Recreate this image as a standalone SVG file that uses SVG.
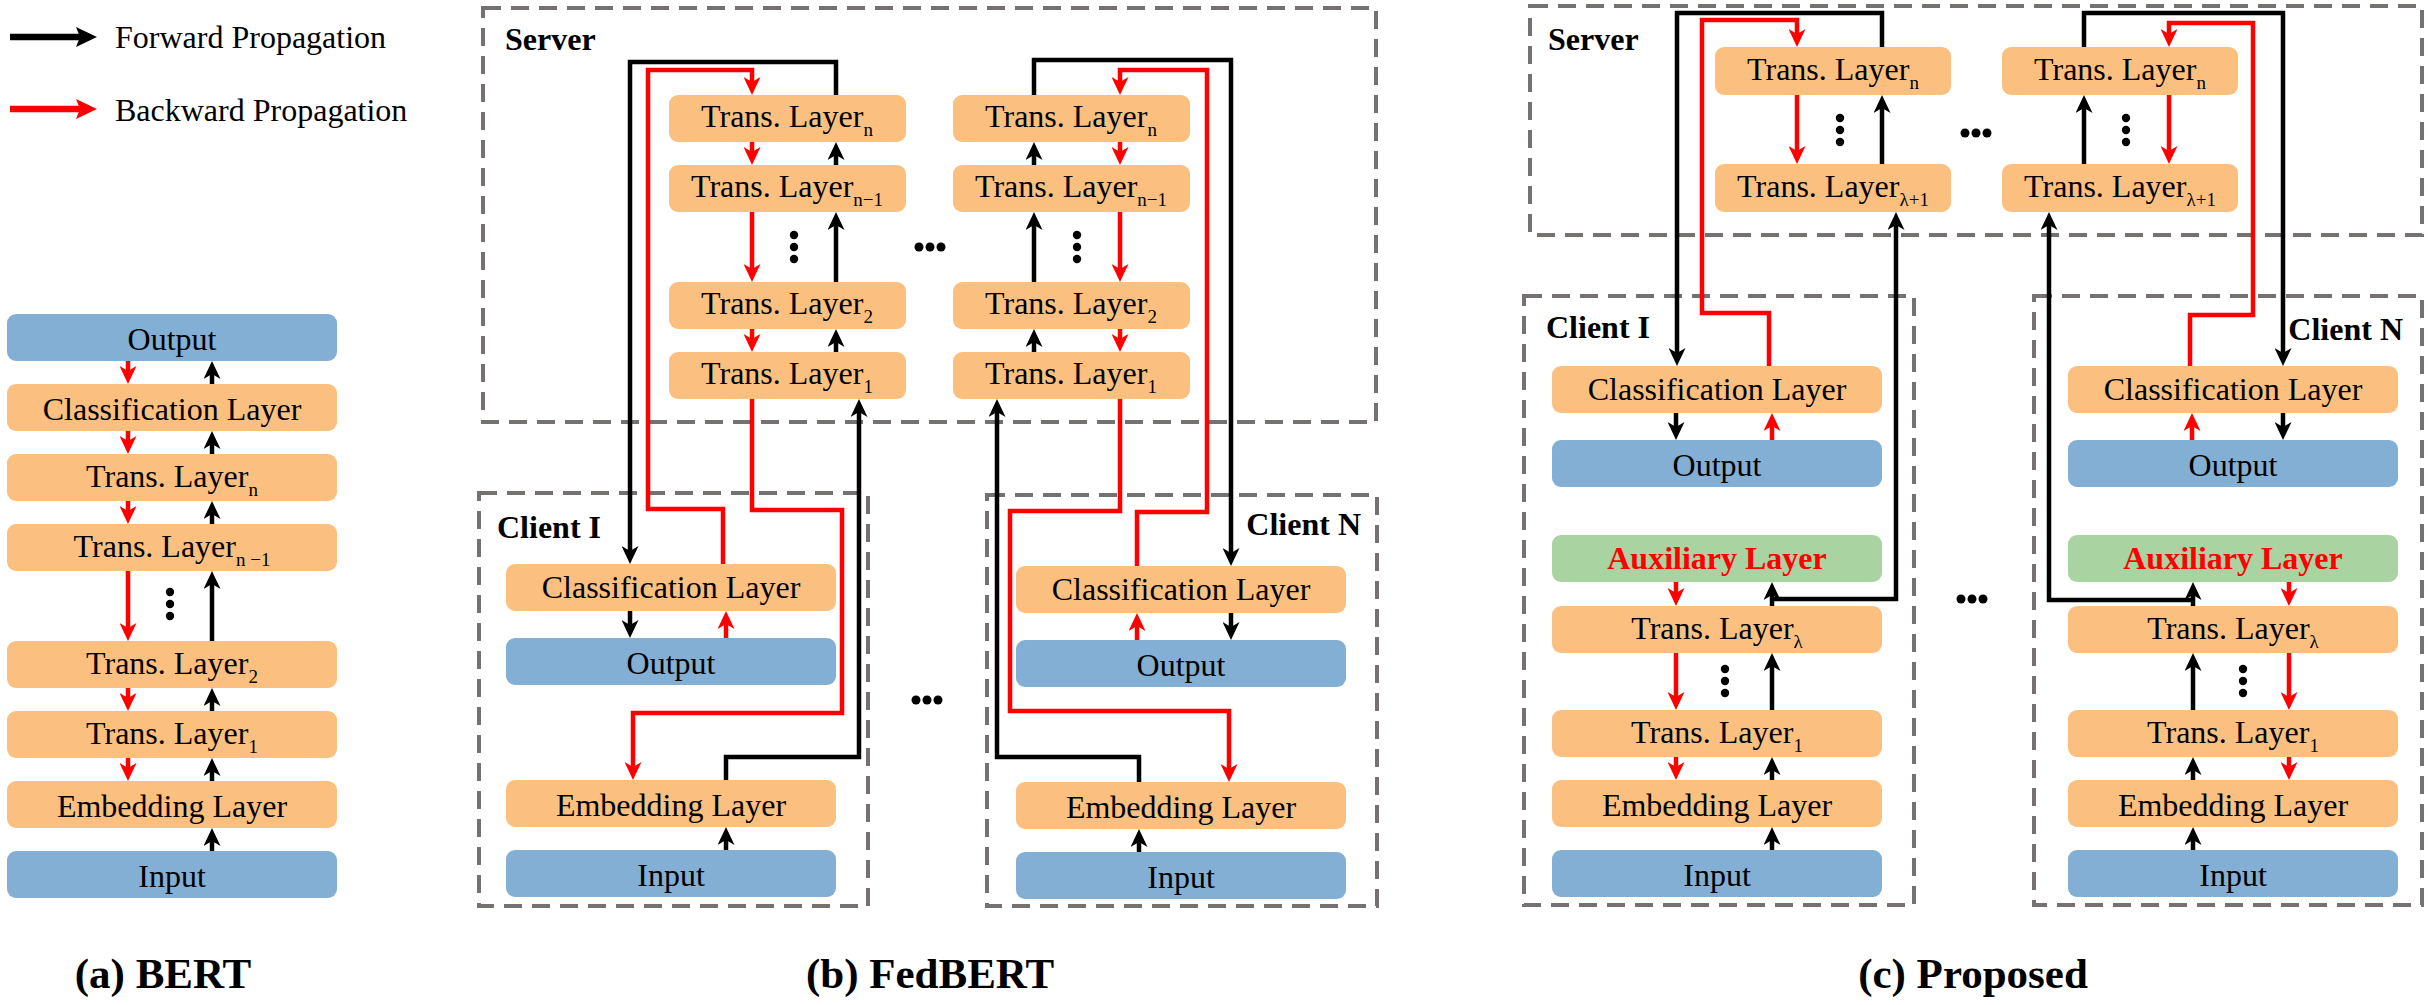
<svg xmlns="http://www.w3.org/2000/svg" width="2428" height="1005" viewBox="0 0 2428 1005">
<style>
.o{fill:#FBC07F}
.b{fill:#82AFD3}
.g{fill:#A9D3A1}
.t{font-family:"Liberation Serif","Times New Roman",serif;font-size:32px;text-anchor:middle;fill:#000}
.s{font-size:19px}
.lb{font-family:"Liberation Serif","Times New Roman",serif;font-size:32px;font-weight:bold;fill:#000}
.aux{font-weight:bold;fill:#f00}
.cap{font-family:"Liberation Serif","Times New Roman",serif;font-size:43px;font-weight:bold;text-anchor:middle;fill:#000}
.lg{font-family:"Liberation Serif","Times New Roman",serif;font-size:32px;fill:#000}
.d{fill:none;stroke:#767171;stroke-width:4;stroke-dasharray:18 10}
.k{fill:none;stroke:#000;stroke-width:4.5;marker-end:url(#ak)}
.r{fill:none;stroke:#f00;stroke-width:4.5;marker-end:url(#ar)}
.dot{fill:#000}
</style>
<defs>
<marker id="ak" viewBox="0 0 18 17" markerWidth="18" markerHeight="17" refX="6" refY="8.5" orient="auto" markerUnits="userSpaceOnUse"><path d="M0,0 L18,8.5 L0,17 L5,8.5 Z" fill="#000"/></marker>
<marker id="ar" viewBox="0 0 18 17" markerWidth="18" markerHeight="17" refX="6" refY="8.5" orient="auto" markerUnits="userSpaceOnUse"><path d="M0,0 L18,8.5 L0,17 L5,8.5 Z" fill="#f00"/></marker>
<g id="vdots"><circle cx="0" cy="0" r="4.2"/><circle cx="0" cy="12" r="4.2"/><circle cx="0" cy="24" r="4.2"/></g>
<g id="hdots"><circle cx="-11" cy="0" r="4.5"/><circle cx="0" cy="0" r="4.5"/><circle cx="11" cy="0" r="4.5"/></g>
</defs>

<!-- Legend -->
<g id="legend">
<path d="M10,37 H82" stroke="#000" stroke-width="6.5" fill="none"/>
<path d="M76,27 L97,37 L76,47 L80,37 Z" fill="#000"/>
<text class="lg" x="115" y="48">Forward Propagation</text>
<path d="M10,109 H82" stroke="#f00" stroke-width="6.5" fill="none"/>
<path d="M76,99 L97,109 L76,119 L80,109 Z" fill="#f00"/>
<text class="lg" x="115" y="121">Backward Propagation</text>
</g>

<!-- Containers -->
<g id="b-server"><rect class="d" x="483" y="8" width="893" height="414"/><text class="lb" x="505" y="50">Server</text></g>
<g id="b-client1"><rect class="d" x="479" y="493" width="389" height="413"/><text class="lb" x="497" y="538">Client I</text></g>
<g id="b-clientN"><rect class="d" x="987" y="495" width="390" height="411"/><text class="lb" x="1361" y="535" text-anchor="end">Client N</text></g>
<g id="c-server"><rect class="d" x="1530" y="6" width="892" height="229"/><text class="lb" x="1548" y="50">Server</text></g>
<g id="c-client1"><rect class="d" x="1524" y="296" width="390" height="609"/><text class="lb" x="1546" y="338">Client I</text></g>
<g id="c-clientN"><rect class="d" x="2034" y="296" width="388" height="609"/><text class="lb" x="2403" y="340" text-anchor="end">Client N</text></g>

<!-- Panel (a) BERT -->
<g id="a-output"><rect class="b" x="7" y="314" width="330" height="47" rx="9"/><text class="t" x="172" y="350">Output</text></g>
<g id="a-class"><rect class="o" x="7" y="384" width="330" height="47" rx="9"/><text class="t" x="172" y="420">Classification Layer</text></g>
<g id="a-tn"><rect class="o" x="7" y="454" width="330" height="47" rx="9"/><text class="t" x="172" y="487">Trans. Layer<tspan class="s" dy="9">n</tspan></text></g>
<g id="a-tn1"><rect class="o" x="7" y="524" width="330" height="47" rx="9"/><text class="t" x="172" y="557">Trans. Layer<tspan class="s" dy="9">n −1</tspan></text></g>
<g id="a-t2"><rect class="o" x="7" y="641" width="330" height="47" rx="9"/><text class="t" x="172" y="674">Trans. Layer<tspan class="s" dy="9">2</tspan></text></g>
<g id="a-t1"><rect class="o" x="7" y="711" width="330" height="47" rx="9"/><text class="t" x="172" y="744">Trans. Layer<tspan class="s" dy="9">1</tspan></text></g>
<g id="a-emb"><rect class="o" x="7" y="781" width="330" height="47" rx="9"/><text class="t" x="172" y="817">Embedding Layer</text></g>
<g id="a-input"><rect class="b" x="7" y="851" width="330" height="47" rx="9"/><text class="t" x="172" y="887">Input</text></g>

<!-- Panel (b) FedBERT server -->
<g id="b-s1-tn"><rect class="o" x="669" y="95" width="237" height="47" rx="9"/><text class="t" x="787" y="127">Trans. Layer<tspan class="s" dy="9">n</tspan></text></g>
<g id="b-s1-tn1"><rect class="o" x="669" y="165" width="237" height="47" rx="9"/><text class="t" x="787" y="197">Trans. Layer<tspan class="s" dy="9">n−1</tspan></text></g>
<g id="b-s1-t2"><rect class="o" x="669" y="282" width="237" height="47" rx="9"/><text class="t" x="787" y="314">Trans. Layer<tspan class="s" dy="9">2</tspan></text></g>
<g id="b-s1-t1"><rect class="o" x="669" y="352" width="237" height="47" rx="9"/><text class="t" x="787" y="384">Trans. Layer<tspan class="s" dy="9">1</tspan></text></g>
<g id="b-sN-tn"><rect class="o" x="953" y="95" width="237" height="47" rx="9"/><text class="t" x="1071" y="127">Trans. Layer<tspan class="s" dy="9">n</tspan></text></g>
<g id="b-sN-tn1"><rect class="o" x="953" y="165" width="237" height="47" rx="9"/><text class="t" x="1071" y="197">Trans. Layer<tspan class="s" dy="9">n−1</tspan></text></g>
<g id="b-sN-t2"><rect class="o" x="953" y="282" width="237" height="47" rx="9"/><text class="t" x="1071" y="314">Trans. Layer<tspan class="s" dy="9">2</tspan></text></g>
<g id="b-sN-t1"><rect class="o" x="953" y="352" width="237" height="47" rx="9"/><text class="t" x="1071" y="384">Trans. Layer<tspan class="s" dy="9">1</tspan></text></g>

<!-- Panel (b) clients -->
<g id="b-c1-class"><rect class="o" x="506" y="564" width="330" height="47" rx="9"/><text class="t" x="671" y="598">Classification Layer</text></g>
<g id="b-c1-output"><rect class="b" x="506" y="638" width="330" height="47" rx="9"/><text class="t" x="671" y="674">Output</text></g>
<g id="b-c1-emb"><rect class="o" x="506" y="780" width="330" height="47" rx="9"/><text class="t" x="671" y="816">Embedding Layer</text></g>
<g id="b-c1-input"><rect class="b" x="506" y="850" width="330" height="47" rx="9"/><text class="t" x="671" y="886">Input</text></g>
<g id="b-cN-class"><rect class="o" x="1016" y="566" width="330" height="47" rx="9"/><text class="t" x="1181" y="600">Classification Layer</text></g>
<g id="b-cN-output"><rect class="b" x="1016" y="640" width="330" height="47" rx="9"/><text class="t" x="1181" y="676">Output</text></g>
<g id="b-cN-emb"><rect class="o" x="1016" y="782" width="330" height="47" rx="9"/><text class="t" x="1181" y="818">Embedding Layer</text></g>
<g id="b-cN-input"><rect class="b" x="1016" y="852" width="330" height="47" rx="9"/><text class="t" x="1181" y="888">Input</text></g>

<!-- Panel (c) server -->
<g id="c-s1-tn"><rect class="o" x="1715" y="47" width="236" height="48" rx="9"/><text class="t" x="1833" y="80">Trans. Layer<tspan class="s" dy="9">n</tspan></text></g>
<g id="c-s1-tl1"><rect class="o" x="1715" y="164" width="236" height="48" rx="9"/><text class="t" x="1833" y="197">Trans. Layer<tspan class="s" dy="9">λ+1</tspan></text></g>
<g id="c-sN-tn"><rect class="o" x="2002" y="47" width="236" height="48" rx="9"/><text class="t" x="2120" y="80">Trans. Layer<tspan class="s" dy="9">n</tspan></text></g>
<g id="c-sN-tl1"><rect class="o" x="2002" y="164" width="236" height="48" rx="9"/><text class="t" x="2120" y="197">Trans. Layer<tspan class="s" dy="9">λ+1</tspan></text></g>

<!-- Panel (c) client I -->
<g id="c-c1-class"><rect class="o" x="1552" y="366" width="330" height="47" rx="9"/><text class="t" x="1717" y="400">Classification Layer</text></g>
<g id="c-c1-output"><rect class="b" x="1552" y="440" width="330" height="47" rx="9"/><text class="t" x="1717" y="476">Output</text></g>
<g id="c-c1-aux"><rect class="g" x="1552" y="535" width="330" height="47" rx="9"/><text class="t aux" x="1717" y="569">Auxiliary Layer</text></g>
<g id="c-c1-tl"><rect class="o" x="1552" y="606" width="330" height="47" rx="9"/><text class="t" x="1717" y="639">Trans. Layer<tspan class="s" dy="9">λ</tspan></text></g>
<g id="c-c1-t1"><rect class="o" x="1552" y="710" width="330" height="47" rx="9"/><text class="t" x="1717" y="743">Trans. Layer<tspan class="s" dy="9">1</tspan></text></g>
<g id="c-c1-emb"><rect class="o" x="1552" y="780" width="330" height="47" rx="9"/><text class="t" x="1717" y="816">Embedding Layer</text></g>
<g id="c-c1-input"><rect class="b" x="1552" y="850" width="330" height="47" rx="9"/><text class="t" x="1717" y="886">Input</text></g>

<!-- Panel (c) client N -->
<g id="c-cN-class"><rect class="o" x="2068" y="366" width="330" height="47" rx="9"/><text class="t" x="2233" y="400">Classification Layer</text></g>
<g id="c-cN-output"><rect class="b" x="2068" y="440" width="330" height="47" rx="9"/><text class="t" x="2233" y="476">Output</text></g>
<g id="c-cN-aux"><rect class="g" x="2068" y="535" width="330" height="47" rx="9"/><text class="t aux" x="2233" y="569">Auxiliary Layer</text></g>
<g id="c-cN-tl"><rect class="o" x="2068" y="606" width="330" height="47" rx="9"/><text class="t" x="2233" y="639">Trans. Layer<tspan class="s" dy="9">λ</tspan></text></g>
<g id="c-cN-t1"><rect class="o" x="2068" y="710" width="330" height="47" rx="9"/><text class="t" x="2233" y="743">Trans. Layer<tspan class="s" dy="9">1</tspan></text></g>
<g id="c-cN-emb"><rect class="o" x="2068" y="780" width="330" height="47" rx="9"/><text class="t" x="2233" y="816">Embedding Layer</text></g>
<g id="c-cN-input"><rect class="b" x="2068" y="850" width="330" height="47" rx="9"/><text class="t" x="2233" y="886">Input</text></g>

<!-- Ellipses -->
<g id="ellipses" class="dot">
<use href="#vdots" x="170" y="592"/>
<use href="#vdots" x="794" y="235"/>
<use href="#vdots" x="1077" y="235"/>
<use href="#vdots" x="1840" y="118"/>
<use href="#vdots" x="2126" y="118"/>
<use href="#vdots" x="1725" y="669"/>
<use href="#vdots" x="2243" y="669"/>
<use href="#hdots" x="930" y="247"/>
<use href="#hdots" x="927" y="700"/>
<use href="#hdots" x="1976" y="133"/>
<use href="#hdots" x="1972" y="599"/>
</g>

<!-- Connectors -->
<g id="connectors">
<!-- (a) -->
<path class="r" d="M128,361 V372"/>
<path class="r" d="M128,431 V442"/>
<path class="r" d="M128,501 V512"/>
<path class="r" d="M128,571 V629"/>
<path class="r" d="M128,688 V699"/>
<path class="r" d="M128,758 V769"/>
<path class="k" d="M212,851 V840"/>
<path class="k" d="M212,781 V770"/>
<path class="k" d="M212,711 V700"/>
<path class="k" d="M212,641 V583"/>
<path class="k" d="M212,524 V513"/>
<path class="k" d="M212,454 V443"/>
<path class="k" d="M212,384 V373"/>
<!-- (b) server left -->
<path class="r" d="M752,142 V153"/>
<path class="r" d="M752,212 V270"/>
<path class="r" d="M752,329 V340"/>
<path class="k" d="M836,352 V341"/>
<path class="k" d="M836,282 V224"/>
<path class="k" d="M836,165 V154"/>
<!-- (b) server right -->
<path class="r" d="M1120,142 V153"/>
<path class="r" d="M1120,212 V270"/>
<path class="r" d="M1120,329 V340"/>
<path class="k" d="M1034,352 V341"/>
<path class="k" d="M1034,282 V224"/>
<path class="k" d="M1034,165 V154"/>
<!-- (b) client I loops -->
<path class="k" d="M836,95 V62 H630 V552"/>
<path class="r" d="M723,564 V509 H648 V70 H752 V83"/>
<path class="r" d="M752,399 V510 H842 V713 H633 V768"/>
<path class="k" d="M726,780 V757 H859 V411"/>
<path class="k" d="M630,611 V626"/>
<path class="r" d="M726,638 V623"/>
<path class="k" d="M726,850 V839"/>
<!-- (b) client N loops -->
<path class="k" d="M1034,95 V60 H1231 V554"/>
<path class="r" d="M1137,566 V512 H1207 V70 H1120 V83"/>
<path class="r" d="M1120,399 V511 H1010 V711 H1229 V770"/>
<path class="k" d="M1139,782 V757 H997 V411"/>
<path class="r" d="M1137,640 V625"/>
<path class="k" d="M1231,613 V628"/>
<path class="k" d="M1139,852 V841"/>
<!-- (c) server -->
<path class="r" d="M1797,95 V152"/>
<path class="k" d="M1882,164 V107"/>
<path class="k" d="M2084,164 V107"/>
<path class="r" d="M2169,95 V152"/>
<!-- (c) client I loops -->
<path class="k" d="M1882,47 V13 H1677 V354"/>
<path class="r" d="M1769,366 V313 H1702 V20 H1797 V35"/>
<path class="k" d="M1772,599 H1896 V224"/>
<path class="k" d="M1676,413 V428"/>
<path class="r" d="M1772,440 V425"/>
<path class="r" d="M1676,582 V594"/>
<path class="k" d="M1772,606 V594"/>
<path class="r" d="M1676,653 V698"/>
<path class="k" d="M1772,710 V665"/>
<path class="r" d="M1676,757 V768"/>
<path class="k" d="M1772,780 V769"/>
<path class="k" d="M1772,850 V839"/>
<!-- (c) client N loops -->
<path class="k" d="M2084,47 V13 H2283 V354"/>
<path class="r" d="M2190,366 V315 H2253 V23 H2169 V35"/>
<path class="k" d="M2193,600 H2049 V224"/>
<path class="r" d="M2192,440 V425"/>
<path class="k" d="M2283,413 V428"/>
<path class="k" d="M2193,606 V594"/>
<path class="r" d="M2289,582 V594"/>
<path class="k" d="M2193,710 V665"/>
<path class="r" d="M2289,653 V698"/>
<path class="k" d="M2193,780 V769"/>
<path class="r" d="M2289,757 V768"/>
<path class="k" d="M2193,850 V839"/>
</g>

<!-- Captions -->
<g id="captions">
<text class="cap" x="163" y="988">(a) BERT</text>
<text class="cap" x="930" y="988">(b) FedBERT</text>
<text class="cap" x="1973" y="988">(c) Proposed</text>
</g>
</svg>
